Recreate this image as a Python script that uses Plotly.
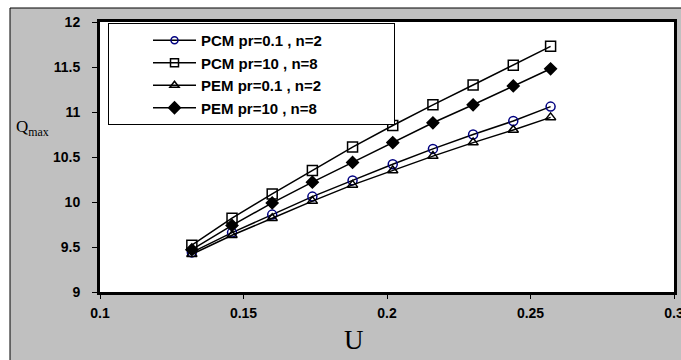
import plotly.graph_objects as go

# Velocity parameter U and peak values Q_max for each model / parameter set
u_values = [0.132, 0.146, 0.160, 0.174, 0.188, 0.202, 0.216, 0.230, 0.244, 0.257]
pcm_pr01_n2 = [9.44, 9.66, 9.86, 10.06, 10.24, 10.42, 10.59, 10.75, 10.90, 11.06]
pcm_pr10_n8 = [9.52, 9.82, 10.09, 10.35, 10.61, 10.85, 11.08, 11.30, 11.52, 11.73]
pem_pr01_n2 = [9.42, 9.63, 9.82, 10.01, 10.19, 10.35, 10.51, 10.66, 10.80, 10.94]
pem_pr10_n8 = [9.47, 9.74, 9.99, 10.22, 10.44, 10.66, 10.88, 11.08, 11.29, 11.48]

series_names = [
    "PCM pr=0.1 , n=2",
    "PCM pr=10 , n=8",
    "PEM pr=0.1 , n=2",
    "PEM pr=10 , n=8",
]

x_ticks = [0.1, 0.15, 0.2, 0.25, 0.3]
x_tick_text = ["0.1", "0.15", "0.2", "0.25", "0.3"]
y_ticks = [9, 9.5, 10, 10.5, 11, 11.5, 12]
y_tick_text = ["9", "9.5", "10", "10.5", "11", "11.5", "12"]

# marker symbol, colour, size on the curves, size in the legend
styles = [
    dict(symbol="circle-open", color="#000080", size=9, key=7),
    dict(symbol="square-open", color="black", size=10, key=8),
    dict(symbol="triangle-up-open", color="black", size=9, key=8),
    dict(symbol="diamond", color="black", size=9, key=9),
]
series = [pcm_pr01_n2, pcm_pr10_n8, pem_pr01_n2, pem_pr10_n8]

fig = go.Figure()
for name, ys, st in zip(series_names, series, styles):
    fig.add_trace(go.Scatter(
        x=u_values, y=ys, name=name, mode="lines+markers", showlegend=False,
        line=dict(color="black", width=1.5),
        marker=dict(symbol=st["symbol"], size=st["size"], color=st["color"],
                    line=dict(color=st["color"], width=1.5)),
    ))

# legend keys with smaller symbols than the curves
pad = "\u00a0" * 16
for name, st in zip(series_names, styles):
    fig.add_trace(go.Scatter(
        x=[None], y=[None], name=name + pad, mode="lines+markers",
        line=dict(color="black", width=1.5),
        marker=dict(symbol=st["symbol"], size=st["key"], color=st["color"],
                    line=dict(color=st["color"], width=1.5)),
    ))

L, R, T, B = 100, 7, 22, 68
W, H = 681, 360
pw, ph = W - L - R, H - T - B


def px_x(p):
    return (p - L) / pw


def px_y(p):
    return (H - B - p) / ph


# grey frame behind the chart, then the white plotting area over it
fig.add_shape(type="rect", xref="paper", yref="paper", layer="below",
              x0=px_x(10), x1=px_x(700), y0=px_y(8), y1=px_y(380),
              fillcolor="#c0c0c0", line=dict(color="black", width=1))
fig.add_shape(type="rect", xref="paper", yref="paper", layer="below",
              x0=0, x1=1, y0=0, y1=1, fillcolor="white", line=dict(width=0))

tick_font = dict(family="Arial, Liberation Sans, sans-serif", size=14,
                 color="black", weight="bold")

fig.update_layout(
    width=W, height=H,
    margin=dict(l=L, r=R, t=T, b=B, autoexpand=False),
    paper_bgcolor="white", plot_bgcolor="white",
    showlegend=True,
    legend=dict(
        x=px_x(108), y=px_y(23), xanchor="left", yanchor="top",
        bgcolor="white", bordercolor="black", borderwidth=1,
        font=dict(family="Arial, Liberation Sans, sans-serif", size=15,
                  color="black", weight="bold"),
        indentation=39, itemwidth=43, tracegroupgap=0,
    ),
    xaxis=dict(
        range=[0.1, 0.3], tickvals=x_ticks, ticktext=x_tick_text,
        showgrid=False, zeroline=False, automargin=False,
        showline=True, linecolor="black", linewidth=3, mirror=True,
        ticks="outside", ticklen=4, tickcolor="black", tickwidth=1,
        tickfont=tick_font, ticklabelstandoff=2, ticklabeloverflow="allow",
    ),
    yaxis=dict(
        range=[9, 12], tickvals=y_ticks, ticktext=y_tick_text,
        showgrid=False, zeroline=False, automargin=False,
        showline=True, linecolor="black", linewidth=3, mirror=True,
        ticks="outside", ticklen=5, tickcolor="black", tickwidth=1,
        tickfont=tick_font, ticklabelstandoff=9,
    ),
)

fig.add_annotation(
    text="Q<sub>max</sub>", xref="paper", yref="paper",
    x=px_x(14), y=px_y(128), xanchor="left", yanchor="middle",
    showarrow=False,
    font=dict(family="Liberation Serif, Times New Roman, serif", size=17, color="black"),
)
fig.add_annotation(
    text="U", xref="paper", yref="paper",
    x=px_x(354), y=px_y(340), xanchor="center", yanchor="middle",
    showarrow=False,
    font=dict(family="Liberation Serif, Times New Roman, serif", size=27, color="black"),
)

fig.write_html("out.html")
